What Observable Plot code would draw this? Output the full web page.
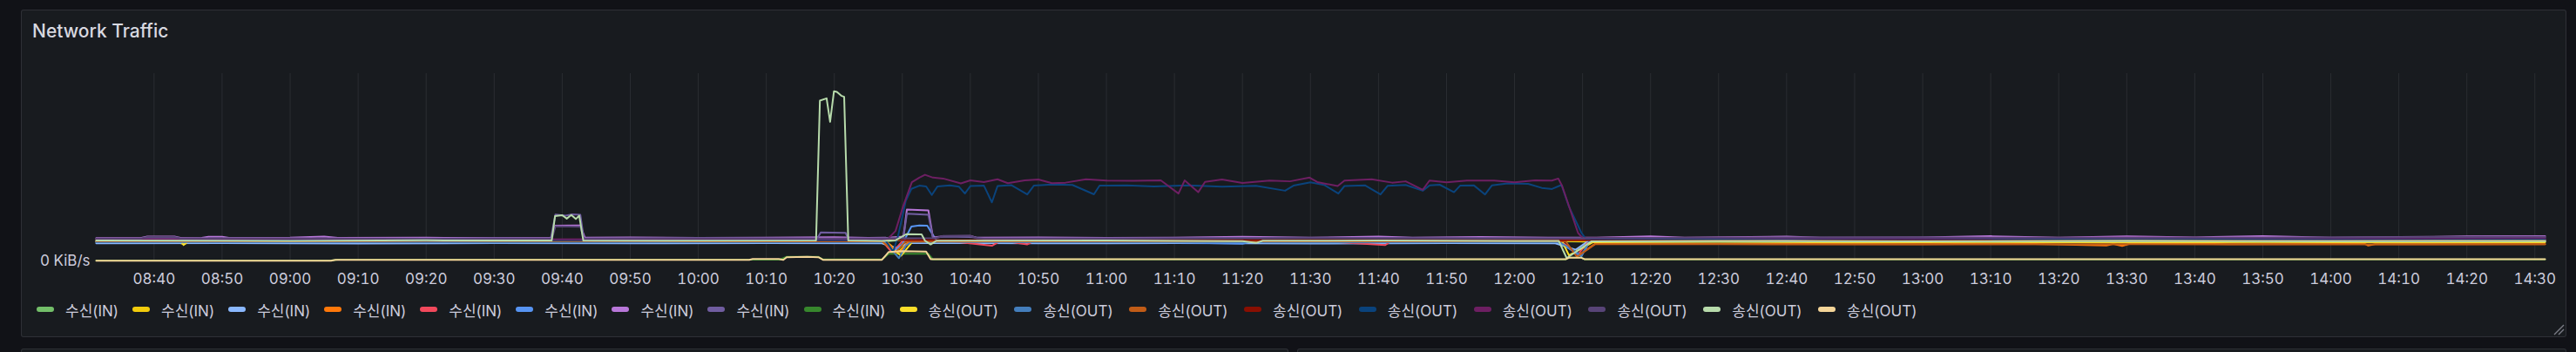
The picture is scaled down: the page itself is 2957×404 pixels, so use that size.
<!DOCTYPE html>
<html>
<head>
<meta charset="utf-8">
<script src="https://cdn.jsdelivr.net/npm/d3@7"></script>
<script src="https://cdn.jsdelivr.net/npm/@observablehq/plot@0.6"></script>
<style>
  html, body { margin: 0; padding: 0; }
  body { width: 2957px; height: 404px; background: #111217; position: relative; overflow: hidden;
         font-family: Inter, "Noto Sans CJK KR", sans-serif; color: #ccccdc; }
  .panel { position: absolute; background: #181b1f; border: 1px solid rgba(204,204,220,0.12); border-radius: 3px; box-sizing: border-box; }
  #title { position: absolute; left: 37px; top: 25px; font-size: 21px; font-weight: 500; line-height: 21px; color: #d8d9e0; white-space: nowrap; }
  #legend { position: absolute; left: 42px; top: 343px; height: 24px; display: flex; align-items: center; white-space: nowrap; }
  .item { display: flex; align-items: center; margin-right: 16px; font-size: 17px; color: #ccccdc; }
  .item.out { margin-right: 18.5px; }
  .sw { width: 20px; height: 6px; border-radius: 3px; margin-right: 13px; }
  #chart { position: absolute; left: 0; top: 0; }
</style>
</head>
<body>
<div class="panel" style="left:24px;top:11px;width:2922px;height:376px;"></div>
<div class="panel" style="left:24px;top:400px;width:1455px;height:20px;"></div>
<div class="panel" style="left:1489px;top:400px;width:1457px;height:20px;"></div>
<div id="title">Network Traffic</div>
<svg style="position:absolute;left:2930px;top:371px" width="14" height="14"><path d="M2 13 L13 2 M7 13 L13 7" stroke="#7b7d87" stroke-width="1.4" fill="none"/></svg>
<div id="chart"></div>
<div id="legend"></div>
<script>
// ---- data (values in KiB/s) ----
const xDomain = ["08:31:30", "14:31:30"];
const xTickLabels = ["08:40","08:50","09:00","09:10","09:20","09:30","09:40","09:50","10:00","10:10","10:20","10:30","10:40","10:50","11:00","11:10","11:20","11:30","11:40","11:50","12:00","12:10","12:20","12:30","12:40","12:50","13:00","13:10","13:20","13:30","13:40","13:50","14:00","14:10","14:20","14:30"];
const yTicks = [0];
const yTickLabels = ["0 KiB/s"];

const seriesNames = ["수신(IN)","수신(IN)","수신(IN)","수신(IN)","수신(IN)","수신(IN)","수신(IN)","수신(IN)","수신(IN)",
                     "송신(OUT)","송신(OUT)","송신(OUT)","송신(OUT)","송신(OUT)","송신(OUT)","송신(OUT)","송신(OUT)","송신(OUT)"];
const seriesColors = ["#73BF69","#F2CC0C","#8AB8FF","#FF780A","#F2495C","#5794F2","#B877D9","#705DA0","#37872D",
                      "#FADE2A","#447EBC","#C15C17","#890F02","#0A437C","#6D1F62","#584477","#B7DBAB","#F4D598"];

const in1 = [["08:31:30",10.4],["08:40",10.2],["08:48",10.6],["08:55",10.3],["09:05",10.5],["09:15",10.1],["09:25",10.4],["09:35",10.3],["09:45",10.5],["09:55",10.2],["10:05",10.4],["10:15",10.3],["10:25",10.2],["10:28",10.6],["10:30",11.2],["10:34",10.8],["10:38",10.3],["10:50",10.5],["11:00",10.2],["11:15",10.4],["11:30",10.1],["11:45",10.4],["12:00",10.3],["12:07",10.5],["12:10",10.4],["12:20",10.6],["12:35",10.3],["12:50",10.5],["13:05",10.2],["13:20",10.4],["13:35",10.6],["13:50",10.3],["14:05",10.5],["14:20",10.4],["14:31:30",10.5]];
const in2 = [["08:31:30",10.8],["08:43",10.7],["08:44:20",8.9],["08:45:30",10.7],["08:55",10.9],["09:08",10.6],["09:20",10.8],["09:32",10.5],["09:45",10.7],["10:00",10.9],["10:12",10.6],["10:25",10.8],["10:27:30",10.6],["10:29:30",5],["10:31",10.5],["10:45",10.7],["11:00",10.9],["11:20",10.6],["11:40",10.8],["12:00",10.6],["12:07",10.7],["12:12",10.2],["12:30",10.4],["12:50",10.2],["13:10",10.5],["13:30",10.1],["13:45",10.3],["14:00",10.2],["14:15",10.4],["14:31:30",10.3]];
const in3 = [["08:31:30",9.4],["08:50",9.5],["09:10",9.3],["09:30",9.5],["09:50",9.4],["10:10",9.5],["10:27",9.4],["10:29",7],["10:31",9.6],["10:50",9.4],["11:10",9.5],["11:30",9.3],["11:50",9.5],["12:06",9.4],["12:09",6],["12:11",11],["12:30",11.3],["12:50",11.1],["13:10",11.4],["13:30",11.2],["13:50",11.5],["14:10",11.3],["14:31:30",11.4]];
const in4 = [["08:31:30",10.9],["08:50",10.7],["09:10",11],["09:30",10.8],["09:50",10.9],["10:10",10.6],["10:27:30",10.8],["10:29:30",3.8],["10:31",10.6],["10:50",10.8],["11:10",10.6],["11:30",10.9],["11:50",10.7],["12:06:40",10.8],["12:09:30",3.2],["12:11:50",9.1],["12:30",9.1],["13:00",9.0],["13:15",9.2],["13:27",8.2],["13:28",9.1],["13:29:20",8.0],["13:30:20",9.1],["13:45",9.0],["14:05",9.1],["14:05:30",8.2],["14:06:30",9.0],["14:31:30",9.0]];
const in5 = [["08:31:30",11],["08:50",10.8],["09:10",11.1],["09:30",10.9],["09:50",11],["10:10",10.8],["10:27",10.9],["10:28:30",4.5],["10:30",10.5],["10:36",10.9],["10:43:10",8.1],["10:44:30",10.9],["10:48:20",8.8],["10:49:30",10.9],["11:10",10.7],["11:30",10.9],["11:41",8.5],["11:42",10.8],["12:00",10.9],["12:06:40",10.9],["12:09:20",3.5],["12:10:40",9.5],["12:12",11],["12:30",11.1],["13:00",10.9],["13:30",11.1],["14:00",10.9],["14:31:30",11]];
const in6 = [["08:31:30",10.1],["09:00",10],["09:30",10.2],["10:00",10.1],["10:27:30",10],["10:28:40",5],["10:30",9],["10:31:20",18.4],["10:32:30",19],["10:33:40",18.8],["10:35:06",10.3],["10:50",10.1],["11:10",9.9],["11:20",9.2],["11:21",10.1],["11:40",10],["12:00",10.1],["12:06:30",10.1],["12:09:50",2.5],["12:11",10.2],["12:30",10.4],["13:00",10.3],["13:30",10.5],["14:00",10.4],["14:31:30",10.5]];
const in7 = [["08:31:30",12.2],["08:38",12.2],["08:39",13],["08:43",13],["08:44",12.2],["08:47",12.3],["08:48",12.9],["08:50",12.9],["08:51",12.3],["09:00",12.4],["09:05",13],["09:07",12.3],["09:20",12.4],["09:30",12.2],["09:38:20",12.3],["09:39",18.8],["09:42:40",18.9],["09:43:20",12.4],["09:50",12.6],["10:00",12.3],["10:10",12.5],["10:20",12.7],["10:25",12.3],["10:28",12.4],["10:30:10",13],["10:30:40",27.4],["10:33:50",27],["10:34:30",12.6],["10:36",13.2],["10:40",13.4],["10:41",12.4],["10:50",12.6],["11:00",12.3],["11:10",12.5],["11:20",12.9],["11:30",12.4],["11:40",13],["11:45",12.4],["11:55",12.8],["12:05",12.4],["12:12",12.5],["12:20",13.1],["12:25",12.4],["12:40",13],["12:45",12.5],["13:00",12.6],["13:10",13.2],["13:20",12.5],["13:30",13.1],["13:40",12.6],["13:50",13.2],["14:00",12.5],["14:10",12.8],["14:20",13.1],["14:31:30",13.2]];
const in8 = [["08:31:30",11.8],["08:50",12],["09:10",11.9],["09:30",12.1],["09:38:20",12],["09:39",24.8],["09:40:30",24.2],["09:41:30",24.9],["09:42:40",24.6],["09:43:10",12],["10:00",12.2],["10:17:30",12],["10:18",15.2],["10:21:40",15],["10:22",12.1],["10:28",12],["10:30:10",12.5],["10:30:40",25.2],["10:33:50",24.6],["10:34:30",12.2],["10:36",13],["10:40",12.8],["10:42",12],["11:00",12.1],["11:30",12.3],["12:00",12.1],["12:10",12],["12:30",12.3],["13:00",12.1],["13:30",12.4],["14:00",12.2],["14:31:30",12.4]];
const in9 = [["08:31:30",0.2],["09:06",0.2],["09:07",0.7],["10:12",0.7],["10:13",2.2],["10:17:40",2.2],["10:18:20",0.8],["10:27",0.8],["10:28",3.8],["10:33:50",3.8],["10:34:30",0.8],["12:07:30",0.8],["12:08",1.8],["12:09:50",1.8],["12:10:20",0.8],["14:31:30",0.8]];

const out1 = [["08:31:30",10.5],["08:44",10.4],["08:44:20",8.5],["08:45",10.4],["09:00",10.6],["09:20",10.3],["09:40",10.5],["10:00",10.4],["10:20",10.6],["10:27",10.4],["10:29:50",2.8],["10:31:30",10.3],["10:50",10.5],["11:10",10.3],["11:30",10.6],["11:50",10.4],["12:07",10.4],["12:08",3],["12:11:30",10],["12:30",10.2],["12:50",9.9],["13:10",10.1],["13:30",9.8],["13:50",10.1],["14:10",9.9],["14:31:30",10.0]];
const out2 = [["08:31:30",10.0],["09:00",10.1],["09:30",9.9],["10:00",10],["10:27:30",10],["10:29:30",1.5],["10:30:30",8],["10:31:20",10.2],["10:50",10],["11:10",10.1],["11:30",9.9],["11:50",10],["12:06:40",10],["12:09:50",3],["12:11",10.6],["12:30",10.8],["13:00",10.6],["13:30",10.9],["14:00",10.7],["14:31:30",10.8]];
const out3 = [["08:31:30",10.6],["09:00",10.5],["09:30",10.7],["10:00",10.5],["10:27",10.6],["10:29",4.5],["10:30:30",10.4],["11:00",10.6],["11:30",10.5],["12:00",10.6],["12:07:30",10.5],["12:09:10",2.2],["12:11:50",8.9],["12:30",8.9],["13:00",8.8],["13:30",8.9],["14:00",8.8],["14:31:30",8.9]];
const out4 = [["08:31:30",11.2],["09:00",11.0],["09:30",11.3],["10:00",11.1],["10:30",11.2],["11:00",11.0],["11:30",11.2],["12:00",11.1],["12:10",11],["12:30",11.3],["12:40",11.6],["12:50",11.2],["13:00",11.5],["13:30",11.3],["14:00",11.6],["14:31:30",11.5]];
const out5 = [["08:31:30",11.1],["09:00",11.2],["09:30",11],["10:00",11.2],["10:27:30",11.1],["10:28:40",5],["10:29:25",14],["10:30:30",32],["10:31:20",38.5],["10:32:30",40.2],["10:33:30",39.8],["10:34:20",35.2],["10:35:10",39.8],["10:37",40.4],["10:38:20",39.6],["10:39:12",36],["10:40",40],["10:42",40.2],["10:43:10",31.3],["10:44",40],["10:46",40.5],["10:48:22",35.5],["10:49:20",40.2],["10:52",40.8],["10:55",40.6],["10:58:10",35.6],["10:59",40.2],["11:03",40.3],["11:07",39.8],["11:12",40.3],["11:17",39.6],["11:22",40.1],["11:26:16",37.5],["11:27:30",40.2],["11:30",42],["11:32",40.6],["11:34:06",36],["11:35",40],["11:38",40.4],["11:40:18",35.5],["11:41:20",40.1],["11:44",40.6],["11:46:30",37.5],["11:47:30",40.3],["11:49",40.7],["11:51:06",36.7],["11:52",40.2],["11:54",40.4],["11:55:40",35.5],["11:56:40",40.3],["11:59",41.4],["12:02",41.2],["12:04",39],["12:05:30",38.4],["12:06:54",40.6],["12:08",29],["12:09:50",15],["12:10:30",11.8],["12:30",11.9],["13:00",11.7],["13:30",12],["14:00",11.8],["14:31:30",11.9]];
const out6 = [["08:31:30",11.6],["09:00",11.7],["09:30",11.5],["10:00",11.7],["10:27:50",11.6],["10:29",16],["10:30:06",29],["10:31:24",42],["10:32:30",44.5],["10:33:20",46],["10:34:30",44.5],["10:36",44],["10:38:36",41.4],["10:40",43],["10:42",42.1],["10:44",43.6],["10:45:30",41.5],["10:48",43],["10:50",43.5],["10:52",41.5],["10:54",41.8],["10:57",43.6],["11:00",42.9],["11:04",42.8],["11:08",43],["11:10:36",36],["11:11:30",43],["11:13:30",36.7],["11:14:30",42.2],["11:17",43.5],["11:20",41.6],["11:24",42.9],["11:27",42.5],["11:29:52",44.5],["11:31",42.1],["11:34",40],["11:35",42.9],["11:39",43.6],["11:42",41.8],["11:44",42.5],["11:46:30",38],["11:47:30",42.9],["11:50",42],["11:53",42.9],["11:57",42.9],["12:00",42],["12:03",43],["12:05:30",42.9],["12:06:26",44],["12:07",40],["12:09:20",15],["12:10",12.2],["12:30",12.3],["13:00",12.1],["13:30",12.4],["14:00",12.2],["14:31:30",12.3]];
const out7 = [["08:31:30",12.0],["08:38",12.0],["08:39",12.8],["08:43",12.8],["08:44",12.0],["09:00",12.1],["09:20",11.9],["09:38:30",12],["09:39",18.5],["09:42:40",18.3],["09:43:10",12],["10:00",12.1],["10:20",12],["10:30",12.1],["10:35",12.2],["10:36",13.4],["10:40",13.4],["10:41",12.1],["11:00",12],["11:30",12.2],["12:00",12.1],["12:12",12.2],["12:30",12.5],["13:00",12.6],["13:30",12.3],["14:00",12.6],["14:20",12.8],["14:31:30",12.9]];
const out8 = [["08:31:30",10.9],["09:00",10.7],["09:20",11],["09:38:27",10.9],["09:38:57",24],["09:40",24.4],["09:40:40",22.6],["09:41:20",24.5],["09:42:00",22.4],["09:42:30",24.2],["09:43:06",10.9],["10:00",10.8],["10:17:19",10.9],["10:17:53",85.6],["10:18:52",86.8],["10:19:23",74.3],["10:19:57",90.6],["10:20:23",90.2],["10:21:01",88.2],["10:21:27",87.6],["10:22:03",10.9],["10:27",10.7],["10:29",11],["10:30:35",14.3],["10:32:50",14.2],["10:33:20",10.8],["10:34:10",8.8],["10:35",10.8],["11:00",10.9],["11:20",10.6],["11:22",9.6],["11:23",10.8],["11:40",10.9],["12:00",10.7],["12:06:30",10.7],["12:07:40",1.5],["12:11:20",10.5],["12:30",10.7],["13:00",10.5],["13:30",10.8],["14:00",10.6],["14:31:30",10.7]];
const out9 = [["08:31:30",0.1],["09:06",0.1],["09:06:40",0.6],["10:07:30",0.6],["10:08",1.0],["10:11:50",1.0],["10:12:30",0.6],["10:13",2.0],["10:16",2.2],["10:17:40",2.0],["10:18:20",0.6],["10:27",0.6],["10:28",4.8],["10:30",5.2],["10:33:30",5],["10:34:10",0.9],["12:07:30",0.9],["12:08",1.7],["12:09:50",1.7],["12:10:20",0.9],["14:31:30",0.9]];

const seriesData = [in1,in2,in3,in4,in5,in6,in7,in8,in9,out1,out2,out3,out4,out5,out6,out7,out8,out9];

// ---- build ----
const t = s => { const [h, m, sec = 0] = s.split(":").map(Number); return new Date(Date.UTC(2024, 0, 1, h, m, sec)); };
const rows = [];
seriesData.forEach((arr, i) => arr.forEach(([time, v]) => rows.push({id: i, time: t(time), value: v})));
const ids = seriesData.map((_, i) => i);

const chart = Plot.plot({
  width: 2957, height: 340,
  marginLeft: 110, marginRight: 36, marginTop: 84, marginBottom: 41,
  style: {background: "transparent", color: "#ccccdc", fontFamily: "Inter, 'Noto Sans CJK KR', sans-serif", fontSize: "17px", overflow: "visible"},
  x: {type: "utc", domain: xDomain.map(t), ticks: xTickLabels.map(t), tickFormat: d3.utcFormat("%H:%M"),
      tickSize: 0, tickPadding: 14, grid: true, label: null},
  y: {domain: [0, 100], ticks: yTicks, tickFormat: (d, i) => yTickLabels[yTicks.indexOf(d)], tickSize: 0, tickPadding: 7, label: null},
  color: {type: "ordinal", domain: ids, range: seriesColors},
  marks: [
    Plot.line(rows, {x: "time", y: "value", z: "id", stroke: "id", strokeWidth: 2, curve: "linear"})
  ]
});
document.getElementById("chart").appendChild(chart);

const legend = document.getElementById("legend");
seriesNames.forEach((name, i) => {
  const item = document.createElement("div");
  item.className = i >= 9 ? "item out" : "item";
  const sw = document.createElement("div");
  sw.className = "sw";
  sw.style.background = seriesColors[i];
  const tx = document.createElement("span");
  tx.textContent = name;
  item.appendChild(sw); item.appendChild(tx);
  legend.appendChild(item);
});
</script>
</body>
</html>
